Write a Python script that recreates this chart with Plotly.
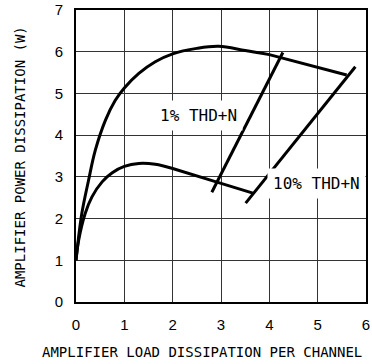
import plotly.graph_objects as go

# Upper curve
upper_x = [0, 0.12, 0.26, 0.40, 0.61, 0.81, 1.0, 1.3, 1.64, 2.0, 2.5, 2.95, 3.5, 4.0]
upper_y = [1.0, 2.12, 2.92, 3.64, 4.36, 4.83, 5.13, 5.48, 5.76, 5.95, 6.08, 6.13, 6.03, 5.93]
upper_tail_x = [4.0, 5.6]
upper_tail_y = [5.93, 5.44]

# Lower curve
lower_x = [0, 0.055, 0.19, 0.33, 0.54, 0.75, 1.0, 1.3, 1.64, 2.0]
lower_y = [1.0, 1.48, 2.12, 2.52, 2.88, 3.10, 3.25, 3.32, 3.30, 3.2]
lower_tail_x = [2.0, 2.9, 3.66]
lower_tail_y = [3.2, 2.88, 2.61]

# THD+N lines
thd1_x = [2.81, 4.28]
thd1_y = [2.63, 5.98]
thd10_x = [3.51, 5.78]
thd10_y = [2.37, 5.64]

labels = ["1% THD+N", "10% THD+N"]
label_x = [2.53, 4.97]
label_y = [4.46, 2.83]

x_ticks = [0, 1, 2, 3, 4, 5, 6]
y_ticks = [0, 1, 2, 3, 4, 5, 6, 7]

x_title = "AMPLIFIER LOAD DISSIPATION PER CHANNEL"
y_title = "AMPLIFIER POWER DISSIPATION (W)"

fig = go.Figure()
line = dict(color="black", width=3)
fig.add_trace(go.Scatter(x=upper_x, y=upper_y, mode="lines",
                         line=dict(color="black", width=3, shape="spline", smoothing=1.0)))
fig.add_trace(go.Scatter(x=upper_tail_x, y=upper_tail_y, mode="lines", line=line))
fig.add_trace(go.Scatter(x=lower_x, y=lower_y, mode="lines",
                         line=dict(color="black", width=3, shape="spline", smoothing=1.0)))
fig.add_trace(go.Scatter(x=lower_tail_x, y=lower_tail_y, mode="lines",
                         line=dict(color="black", width=3, shape="spline", smoothing=0.6)))
fig.add_trace(go.Scatter(x=thd1_x, y=thd1_y, mode="lines", line=line))
fig.add_trace(go.Scatter(x=thd10_x, y=thd10_y, mode="lines", line=line))

for t, lx, ly in zip(labels, label_x, label_y):
    fig.add_annotation(x=lx, y=ly, text=t, showarrow=False, bgcolor="white",
                       borderpad=5,
                       font=dict(family="DejaVu Sans Mono", size=16, color="black"))

fig.add_annotation(xref="paper", yref="paper", x=0.434, y=-0.171, text=x_title,
                   showarrow=False, xanchor="center", yanchor="middle",
                   font=dict(family="DejaVu Sans Mono", size=14, color="black"))
fig.add_annotation(xref="paper", yref="paper", x=-0.193, y=0.495, text=y_title,
                   showarrow=False, xanchor="center", yanchor="middle", textangle=-90,
                   font=dict(family="DejaVu Sans Mono", size=14, color="black"))

tickfont = dict(family="Liberation Sans Narrow, Liberation Sans", size=15, color="black")
axis_common = dict(showgrid=True, gridcolor="#333333", gridwidth=1,
                   showline=True, linecolor="black", linewidth=2, mirror=True,
                   zeroline=False, ticks="", automargin=False,
                   ticklabeloverflow="allow", tickfont=tickfont)

fig.update_xaxes(range=[0, 6], tickvals=x_ticks, ticktext=[str(v) for v in x_ticks],
                 ticklabelstandoff=8, **axis_common)
fig.update_yaxes(range=[0, 7], tickvals=y_ticks, ticktext=[str(v) for v in y_ticks],
                 ticklabelstandoff=8, **axis_common)

fig.update_layout(width=372, height=364, showlegend=False, hovermode=False,
                  plot_bgcolor="white", paper_bgcolor="white",
                  margin=dict(l=76, r=6, t=10, b=62))

# remove the default page margin so the figure fills the window exactly
fig.write_html("out.html", config={"displayModeBar": False},
               post_script="document.body.style.margin='0';document.body.style.overflow='hidden';")
